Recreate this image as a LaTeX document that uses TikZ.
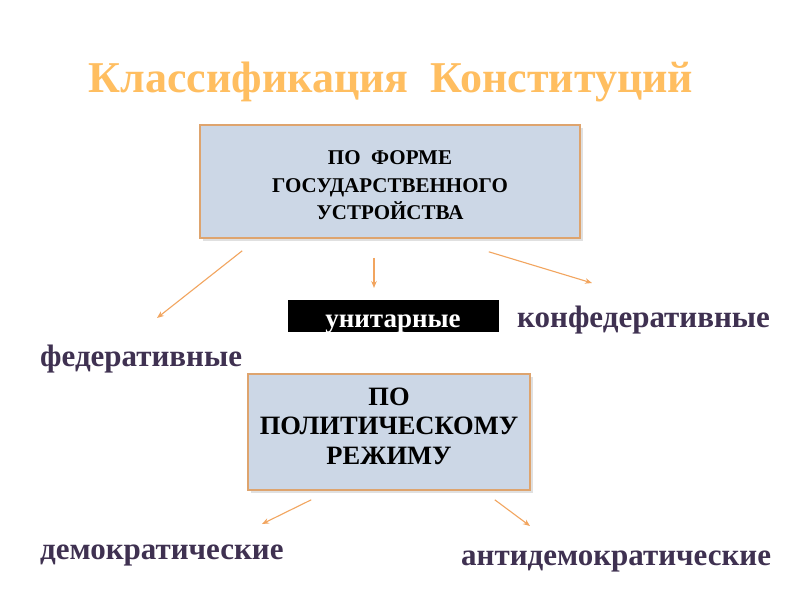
\documentclass[tikz,border=0pt]{standalone}
\usepackage{fontspec}
\setmainfont{Liberation Serif}[BoldFont={Liberation Serif Bold}]
\usetikzlibrary{arrows.meta,calc}
\definecolor{titleorange}{RGB}{255,190,96}
\definecolor{txtpurple}{RGB}{63,49,81}
\definecolor{boxfill}{RGB}{204,215,230}
\definecolor{boxline}{RGB}{222,164,110}
\definecolor{arrcol}{RGB}{242,165,95}
\tikzset{
  catbox/.style={draw=boxline, line width=1.6pt, fill=boxfill, inner sep=0pt},
  boxtext/.style={align=center, inner sep=0pt},
  arr/.style={draw=arrcol, line width=1.1pt, -{Stealth[length=7pt,width=5.5pt]}},
  kind/.style={text=txtpurple, font=\fontsize{31}{34}\selectfont\bfseries, inner sep=0pt, anchor=base west},
}
\begin{document}
\begin{tikzpicture}[x=1pt,y=-1pt]
\useasboundingbox[fill=white] (0,0) rectangle (800,600);
\node[anchor=base, text=titleorange, inner sep=0pt,
  font=\fontsize{44}{50}\selectfont\bfseries] (title) at (391,92) {Классификация\ \ Конституций};
% shadows
\fill[black!12] (203,128) rectangle (583,241);
\fill[black!12] (251,377) rectangle (533,493);
\node[catbox, minimum width=380pt, minimum height=113pt] (b1) at (390,181.5) {};
\node[boxtext, font=\fontsize{21}{27.5}\selectfont\bfseries] (t1) at ([yshift=-4pt]b1.center) {ПО\ \ ФОРМЕ\\ГОСУДАРСТВЕННОГО\\УСТРОЙСТВА};
\node[catbox, minimum width=282pt, minimum height=116pt] (b2) at (389,432) {};
\node[boxtext, font=\fontsize{26.5}{29.5}\selectfont\bfseries] (t2) at ([yshift=6pt]b2.center) {ПО\\ПОЛИТИЧЕСКОМУ\\РЕЖИМУ};
\node[fill=black, minimum width=211pt, minimum height=32pt, inner sep=0pt] (ubox) at (393.5,316) {};
\node[text=white, font=\fontsize{27}{30}\selectfont\bfseries, inner sep=0pt, anchor=base] (unit) at (393,327) {унитарные};
\node[kind] (conf) at (517,327) {конфедеративные};
\node[kind] (fed) at (40,366) {федеративные};
\node[kind] (dem) at (40,559) {демократические};
\node[kind] (anti) at (461,565) {антидемократические};
\coordinate (e1) at (157,318);
\coordinate (e2) at (374,288);
\coordinate (e3) at (592,283);
\coordinate (e4) at (262,524);
\coordinate (e5) at (530,526);
\draw[arr] ([shift={(43,12)}]b1.south west) -- (e1);
\draw[arr] ([shift={(-16,19)}]b1.south) -- (e2);
\draw[arr] ([shift={(-92,13)}]b1.south east) -- (e3);
\draw[arr] ([shift={(64,9)}]b2.south west) -- (e4);
\draw[arr] ([shift={(-36,9)}]b2.south east) -- (e5);
\end{tikzpicture}
\end{document}
